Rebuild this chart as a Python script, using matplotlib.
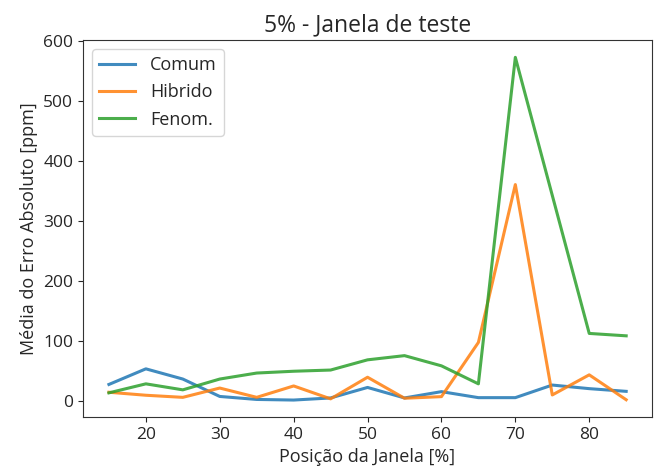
import matplotlib
matplotlib.use('Agg')
import matplotlib.pyplot as plt

posicao = [15, 20, 25, 30, 35, 40, 45, 50, 55, 60, 65, 70, 75, 80, 85]
comum = [27, 53, 36, 7, 2, 1, 4.5, 22, 4.5, 15, 5, 5, 26, 20, 15.5]
hibrido = [14, 9, 5.5, 21, 5.5, 24.5, 3, 39, 4, 6.7, 97, 360, 9.5, 43, 1.5]
fenom = [13, 28, 18, 36, 46, 49, 51, 68, 75, 58, 28, 572, 342, 112, 108]

plt.rcParams['font.family'] = ['Open Sans', 'DejaVu Sans']
plt.rcParams['font.size'] = 12.5
plt.rcParams['text.color'] = '#262626'
plt.rcParams['axes.labelcolor'] = '#262626'
plt.rcParams['xtick.color'] = '#262626'
plt.rcParams['ytick.color'] = '#262626'
plt.rcParams['axes.edgecolor'] = '#333333'

fig = plt.figure(figsize=(6.54, 4.73), dpi=100)
ax = fig.add_subplot(111)
ax.plot(posicao, comum, label='Comum', lw=2.2, alpha=0.85)
ax.plot(posicao, hibrido, label='Hibrido', lw=2.2, alpha=0.85)
ax.plot(posicao, fenom, label='Fenom.', lw=2.2, alpha=0.85)
ax.set_title('5% - Janela de teste', fontsize=16.5)
ax.set_xlabel('Posição da Janela [%]', fontsize=13)
ax.set_ylabel('Média do Erro Absoluto [ppm]', fontsize=13)
ax.legend(loc='upper left', fontsize=13)
fig.subplots_adjust(left=0.127, right=0.997, top=0.915, bottom=0.118)
fig.savefig('out.png')
